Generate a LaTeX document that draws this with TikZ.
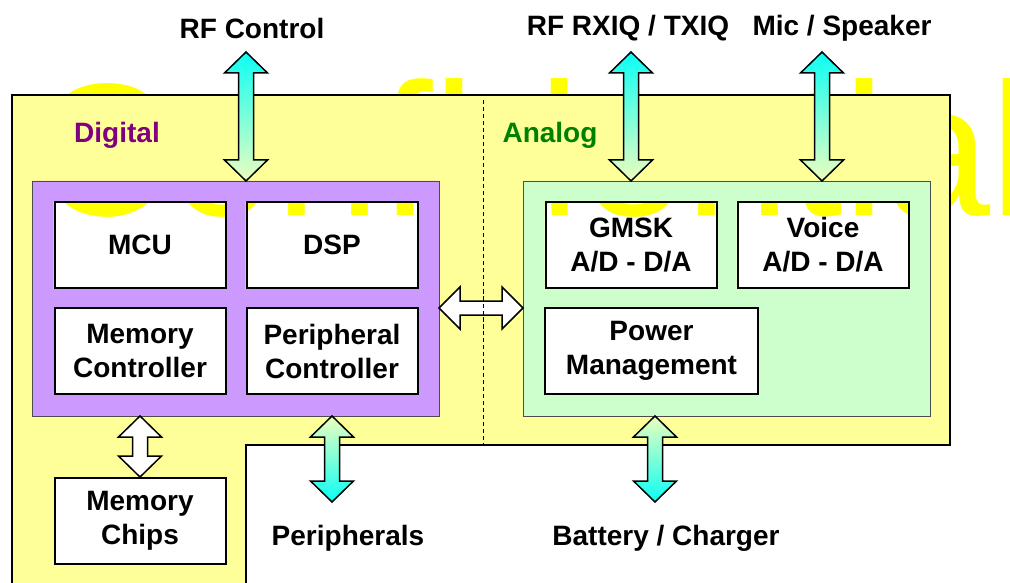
\documentclass[tikz,border=0pt]{standalone}
\usepackage{fontspec}
\setmainfont{Liberation Sans}
\usetikzlibrary{calc}
\usetikzlibrary{backgrounds}
\usetikzlibrary{positioning}

\definecolor{panelyellow}{RGB}{255,255,153}
\definecolor{digpurple}{RGB}{204,153,255}
\definecolor{anagreen}{RGB}{204,255,204}
\definecolor{arrowcyan}{RGB}{10,255,245}
\definecolor{arrowpale}{RGB}{236,255,190}
\definecolor{wmyellow}{RGB}{255,255,0}
\definecolor{labpurple}{RGB}{128,0,128}
\definecolor{labgreen}{RGB}{0,128,0}

% vertical double arrow, top tip #1, bottom tip #2, colours top #3 / bottom #4
\newcommand{\vfatarrow}[4]{
    \shade [top color=#3, bottom color=#4, draw=black, line width=1.5pt]
        let \p1=(#1), \p2=(#2) in
        (\p1) -- (\x1+21.5pt,\y1-21pt) -- (\x1+7.5pt,\y1-21pt)
        -- (\x1+7.5pt,\y2+21pt) -- (\x1+21.5pt,\y2+21pt) -- (\p2)
        -- (\x1-21.5pt,\y2+21pt) -- (\x1-7.5pt,\y2+21pt)
        -- (\x1-7.5pt,\y1-21pt) -- (\x1-21.5pt,\y1-21pt) -- cycle;
}
% horizontal double arrow, left tip #1, right tip #2
\newcommand{\hfatarrow}[2]{
    \filldraw [fill=white, draw=black, line width=1.5pt]
        let \p1=(#1), \p2=(#2) in
        (\p1) -- (\x1+21pt,\y1+21pt) -- (\x1+21pt,\y1+7pt)
        -- (\x2-21pt,\y1+7pt) -- (\x2-21pt,\y1+21pt) -- (\p2)
        -- (\x2-21pt,\y1-21pt) -- (\x2-21pt,\y1-7pt)
        -- (\x1+21pt,\y1-7pt) -- (\x1+21pt,\y1-21pt) -- cycle;
}

\begin{document}
\begin{tikzpicture}[x=1pt, y=-1pt]
    \tikzset{
        every node/.style={font=\fontsize{28}{34}\selectfont\bfseries},
        blk/.style={draw, line width=2pt, align=center,
            minimum width=171pt, minimum height=86pt, inner sep=0pt},
        lbl/.style={inner sep=0pt}
    }
    \useasboundingbox (0,0) rectangle (1010,583);

    % blocks
    \node [blk] (mcu) at (140,245) {MCU};
    \node [blk] (dsp) at (332,245) {DSP};
    \node [blk, fill=white] (memctl) at (140,351) {Memory\\Controller};
    \node [blk, fill=white] (perctl) at (332,351) {Peripheral\\Controller};
    \node [blk] (gmsk) at (631,245) {GMSK\\A/D - D/A};
    \node [blk] (voice) at (823,245) {Voice\\A/D - D/A};
    \node [blk, fill=white, minimum width=213pt] (power) at (651.5,351) {Power\\Management};
    \node [blk, fill=white] (chips) at (140,521) {Memory\\Chips};

    \coordinate (digNW) at (32,181);
    \coordinate (digSE) at (439,416);
    \coordinate (anaNW) at (523,181);
    \coordinate (anaSE) at (930,416);

    \begin{scope}[on background layer]
        \fill [white] (0,0) rectangle (1010,583);
        \node [anchor=base west, inner sep=0pt, text=wmyellow,
            font=\fontsize{189}{189}\selectfont] (wm) at (34,215) {Confidential};
        % panel, with the upper boxes left open
        \fill [panelyellow, even odd rule]
            (12,95) -- (950,95) -- (950,445) -- (246,445) -- (246,590) -- (12,590) -- cycle
            (mcu.north west) rectangle (mcu.south east)
            (dsp.north west) rectangle (dsp.south east)
            (gmsk.north west) rectangle (gmsk.south east)
            (voice.north west) rectangle (voice.south east);
        \draw [line width=2pt]
            (12,590) -- (12,95) -- (950,95) -- (950,445) -- (246,445) -- (246,590);
        \draw [line width=1pt, dash pattern=on 4pt off 3pt] (483,100) -- (483,445);
        % frames
        \fill [digpurple, even odd rule]
            (digNW) rectangle (digSE)
            (mcu.north west) rectangle (mcu.south east)
            (dsp.north west) rectangle (dsp.south east);
        \draw [black!70, line width=0.8pt] (digNW) rectangle (digSE);
        \fill [anagreen, even odd rule]
            (anaNW) rectangle (anaSE)
            (gmsk.north west) rectangle (gmsk.south east)
            (voice.north west) rectangle (voice.south east);
        \draw [black!70, line width=0.8pt] (anaNW) rectangle (anaSE);
    \end{scope}

    \node [lbl, text=labpurple] (digital) at (117,135) {Digital};
    \node [lbl, text=labgreen] (analog) at (550,135) {Analog};

    % outside connections
    \node [lbl] (rfctl) at (252,28) {RF Control};
    \node [lbl] (rfiq) at (628,28) {RF RXIQ / TXIQ};
    \node [lbl] (mic) at (842,28) {Mic / Speaker};
    \node [lbl] (periph) at (348,538) {Peripherals};
    \node [lbl] (batt) at (666,538) {Battery / Charger};

    \coordinate (rfctlT) at (246,52);
    \coordinate (rfiqT) at (631,52);
    \coordinate (micT) at (822,52);
    \coordinate (periphB) at (332,502);
    \coordinate (battB) at (655,502);

    \vfatarrow{rfctlT}{rfctlT |- digNW}{arrowcyan}{arrowpale}
    \vfatarrow{rfiqT}{rfiqT |- anaNW}{arrowcyan}{arrowpale}
    \vfatarrow{micT}{micT |- anaNW}{arrowcyan}{arrowpale}
    \vfatarrow{periphB |- digSE}{periphB}{arrowpale}{arrowcyan}
    \vfatarrow{battB |- anaSE}{battB}{arrowpale}{arrowcyan}
    \vfatarrow{chips.north |- digSE}{chips.north}{white}{white}
    \hfatarrow{digSE |- 0,308}{anaNW |- 0,308}

    \draw [line width=1pt, dash pattern=on 4pt off 3pt] (483,290) -- (483,330);
\end{tikzpicture}
\end{document}
